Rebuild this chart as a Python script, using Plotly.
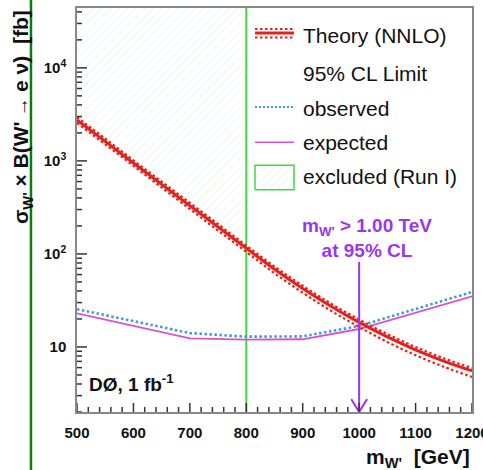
import math
import plotly.graph_objects as go

# Theory (NNLO) cross section x branching ratio [fb] vs W' mass [GeV]
mass_theory = [500, 550, 600, 650, 700, 750, 800, 850, 900, 950, 1000, 1050, 1100, 1150, 1200]
theory = [2750, 1620, 950, 560, 330, 195, 115, 68.5, 42.5, 27.4, 18.4, 12.85, 9.33, 7.05, 5.53]
theory_hi = [2940, 1735, 1015, 600, 353, 209, 123, 73.3, 45.5, 29.3, 19.7, 13.75, 10.0, 7.55, 5.92]
theory_lo = [2560, 1505, 885, 518, 304, 178, 105, 62.0, 38.3, 24.5, 16.4, 11.3, 8.16, 6.13, 4.76]

# 95% CL limits
mass_limit_pts = [500, 600, 700, 800, 900, 1000, 1100, 1200]
observed = [25.5, 19.0, 14.1, 12.9, 13.0, 16.8, 25.5, 39.0]
expected = [23.0, 16.9, 12.4, 12.0, 12.1, 15.6, 23.5, 35.0]

run1_limit = 800        # Run I exclusion [GeV]
mass_limit = 1000       # new lower mass limit [GeV]
arrow_top = 82          # arrow start [fb]

# axis ticks
x_major = list(range(500, 1201, 100))
x_minor = [m for m in range(500, 1201, 20) if m % 100]
y_major = [10, 100, 1000, 10000]
y_major_text = ["10", "10<sup>2</sup>", "10<sup>3</sup>", "10<sup>4</sup>"]

Y_MIN, Y_MAX = 2.0, 4.4e4
X_MIN, X_MAX = 500, 1200
LY0, LY1 = math.log10(Y_MIN), math.log10(Y_MAX)
y_minor = [k * 10 ** n for n in range(0, 5) for k in range(2, 10) if Y_MIN <= k * 10 ** n <= Y_MAX]

W, H = 483, 470
ML, MR, MT, MB = 77, 11, 8, 58
PW, PH = W - ML - MR, H - MT - MB

FONT = "Liberation Sans"
RED = "#e8201c"
BLUE = "#3f9dd2"
MAGENTA = "#d850d8"
GREEN = "#45d645"
PURPLE = "#9b36ee"
TICK = "#333"


def frame(u, v):
    """Fractional position inside the frame -> data coordinates."""
    return X_MIN + u * (X_MAX - X_MIN), 10 ** (LY0 + v * (LY1 - LY0))


fig = go.Figure()

HATCH = dict(shape="/", fgcolor="rgba(80,185,110,0.38)",
             bgcolor="rgba(255,255,255,0)", size=6, solidity=0.12)

# Run I excluded region: above theory curve, below the Run I mass limit
hx = [m for m in mass_theory if m <= run1_limit]
hy = [t for m, t in zip(mass_theory, theory) if m <= run1_limit]
fig.add_trace(go.Scatter(
    x=hx + [run1_limit, X_MIN], y=hy + [Y_MAX, Y_MAX],
    mode="lines", fill="toself", line=dict(width=0),
    fillcolor="rgba(0,0,0,0)", fillpattern=HATCH, hoverinfo="skip"))

# Run I limit line
fig.add_trace(go.Scatter(x=[run1_limit, run1_limit], y=[Y_MIN, Y_MAX], mode="lines",
                         line=dict(color=GREEN, width=2)))

# expected / observed limits
fig.add_trace(go.Scatter(x=mass_limit_pts, y=expected, mode="lines",
                         line=dict(color=MAGENTA, width=1.8)))
fig.add_trace(go.Scatter(x=mass_limit_pts, y=observed, mode="lines",
                         line=dict(color=BLUE, width=2.6, dash="2.5px,2.5px")))

# theory band
fig.add_trace(go.Scatter(x=mass_theory, y=theory_hi, mode="lines", line_shape="spline",
                         line=dict(color=RED, width=2.2, dash="2.5px,2.5px")))
fig.add_trace(go.Scatter(x=mass_theory, y=theory_lo, mode="lines", line_shape="spline",
                         line=dict(color=RED, width=2.2, dash="2.5px,2.5px")))
fig.add_trace(go.Scatter(x=mass_theory, y=theory, mode="lines", line_shape="spline",
                         line=dict(color=RED, width=3)))

# limit arrow
fig.add_trace(go.Scatter(x=[mass_limit, mass_limit], y=[arrow_top, Y_MIN], mode="lines",
                         line=dict(color=PURPLE, width=2)))
fig.add_trace(go.Scatter(x=[mass_limit - 14, mass_limit, mass_limit + 14], y=[2.75, Y_MIN, 2.75],
                         mode="lines", line=dict(color=PURPLE, width=2)))


# inward tick marks along the bottom and left edges of the frame
def x_ticks(vals, length_px):
    xs, ys = [], []
    y0 = frame(0, 0)[1]
    y1 = frame(0, length_px / PH)[1]
    for m in vals:
        xs += [m, m, None]
        ys += [y0, y1, None]
    fig.add_trace(go.Scatter(x=xs, y=ys, mode="lines", cliponaxis=False,
                             line=dict(color=TICK, width=1.5), hoverinfo="skip"))


def y_ticks(vals, length_px):
    xs, ys = [], []
    x0 = frame(0, 0)[0]
    x1 = frame(length_px / PW, 0)[0]
    for v in vals:
        xs += [x0, x1, None]
        ys += [v, v, None]
    fig.add_trace(go.Scatter(x=xs, y=ys, mode="lines", cliponaxis=False,
                             line=dict(color=TICK, width=1.5), hoverinfo="skip"))


x_ticks(x_major, 9)
x_ticks(x_minor, 5)
y_ticks(y_major, 10)
y_ticks(y_minor, 5)


# legend symbols
def seg(v, **line):
    (xa, ya), (xb, yb) = frame(0.4506, v), frame(0.5494, v)
    fig.add_trace(go.Scatter(x=[xa, xb], y=[ya, yb], mode="lines", line=line))


seg(0.948, color=RED, width=2, dash="2.5px,2.5px")
seg(0.927, color=RED, width=2, dash="2.5px,2.5px")
seg(0.938, color=RED, width=3)
seg(0.755, color=BLUE, width=2, dash="2px,2px")
seg(0.668, color=MAGENTA, width=1.5)
box = [frame(u, v) for u, v in [(0.4506, 0.550), (0.5494, 0.550), (0.5494, 0.611),
                                (0.4506, 0.611), (0.4506, 0.550)]]
fig.add_trace(go.Scatter(x=[p[0] for p in box], y=[p[1] for p in box], mode="lines",
                         fill="toself", line=dict(color=GREEN, width=1.5),
                         fillcolor="rgba(0,0,0,0)", fillpattern=HATCH))

legend_text = ["Theory (NNLO)", "95% CL Limit", "observed", "expected", "excluded (Run I)"]
legend_y = [0.933, 0.839, 0.752, 0.666, 0.582]

annotations = []
for t, yy in zip(legend_text, legend_y):
    annotations.append(dict(text=t, x=0.567, y=yy, xref="paper", yref="paper",
                            xanchor="left", yanchor="middle", showarrow=False,
                            font=dict(family=FONT, size=21, color="#111")))

annotations += [
    dict(text="<b>m<sub>W'</sub> > 1.00 TeV</b><br><b>at 95% CL</b>", x=0.734, y=0.43,
         xref="paper", yref="paper", xanchor="center", yanchor="middle", showarrow=False,
         font=dict(family=FONT, size=19, color=PURPLE)),
    dict(text="<b>DØ, 1 fb<sup>-1</sup></b>", x=0.025, y=0.072, xref="paper", yref="paper",
         xanchor="left", yanchor="middle", showarrow=False,
         font=dict(family=FONT, size=19, color="#111")),
    dict(text="<b>m<sub>W'</sub>  [GeV]</b>", x=1.0, y=-0.113, xref="paper", yref="paper",
         xanchor="right", yanchor="middle", showarrow=False,
         font=dict(family=FONT, size=21, color="#111")),
    dict(text="<b>σ<sub>W'</sub> × B(W'<span style='font-size:19px'> → </span>e ν)  [fb]</b>",
         x=-0.139, y=1.0, xref="paper",
         yref="paper", xanchor="center", yanchor="top", textangle=-90, showarrow=False,
         font=dict(family=FONT, size=21, color="#111")),
]

fig.update_layout(
    width=W, height=H,
    margin=dict(l=ML, r=MR, t=MT, b=MB),
    plot_bgcolor="white", paper_bgcolor="white",
    showlegend=False,
    annotations=annotations,
    shapes=[dict(type="line", xref="paper", yref="paper", x0=-0.1165, x1=-0.1165,
                 y0=-0.2, y1=1.1, line=dict(color="#0b7d0b", width=2.5))],
    xaxis=dict(range=[X_MIN, X_MAX], tickvals=x_major, ticks="",
               showgrid=False, zeroline=False, showline=True, linecolor="#888",
               linewidth=1.5, mirror=True, ticklabelstandoff=6,
               ticklabeloverflow="allow", automargin=False,
               tickfont=dict(family=FONT, size=15, color="#111", weight="bold")),
    yaxis=dict(type="log", range=[LY0, LY1],
               tickvals=y_major, ticktext=y_major_text, ticks="",
               showgrid=False, zeroline=False, showline=True, linecolor="#888",
               linewidth=1.5, mirror=True, ticklabelstandoff=6, automargin=False,
               tickfont=dict(family=FONT, size=15, color="#111", weight="bold")),
)

fig.write_html("out.html")
